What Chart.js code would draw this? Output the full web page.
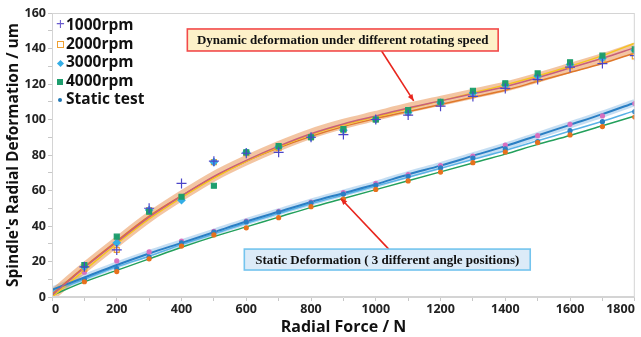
<!DOCTYPE html>
<html>
<head>
<meta charset="utf-8">
<script src="https://cdn.jsdelivr.net/npm/chart.js@4/dist/chart.umd.min.js"></script>
<style>
  html, body { margin: 0; padding: 0; background: #fff; }
  #wrap { position: relative; width: 641px; height: 337px; }
  #legend { position: absolute; left: 56px; top: 15px; font: bold 15.5px "Open Sans", sans-serif; color: #111; line-height: 18.5px; }
  #legend div { white-space: nowrap; }
  #legend span.m { display: inline-block; width: 8px; text-align: center; margin-right: 2px; }
</style>
</head>
<body>
<div id="wrap">
  <canvas id="defChart" width="641" height="337"></canvas>
  <div id="legend">
    <div><span class="m" style="color:#6a5ccf;font-weight:normal">+</span>1000rpm</div>
    <div><span class="m"><i style="display:inline-block;width:5px;height:5px;border:1px solid #f0a030;vertical-align:1px"></i></span>2000rpm</div>
    <div><span class="m"><i style="display:inline-block;width:5px;height:5px;background:#33aee6;transform:rotate(45deg);vertical-align:1px"></i></span>3000rpm</div>
    <div><span class="m"><i style="display:inline-block;width:6px;height:6px;background:#1e9e6e;vertical-align:1px"></i></span>4000rpm</div>
    <div><span class="m"><i style="display:inline-block;width:4px;height:4px;border-radius:50%;background:#1f77b4;vertical-align:2px"></i></span>Static test</div>
  </div>
</div>
<script>
// Radial force (N)
const forceFit = [0, 100, 200, 300, 400, 500, 600, 700, 800, 900, 1000, 1100, 1200, 1300, 1400, 1500, 1600, 1700, 1800];
const forcePts = [100, 200, 300, 400, 500, 600, 700, 800, 900, 1000, 1100, 1200, 1300, 1400, 1500, 1600, 1700, 1800];

// measured dynamic deformation (um)
const rpm1000 = [17, 26.5, 50, 64, 76.5, 81, 81.5, 90, 91.5, 100, 102.5, 107.5, 113, 117.5, 122.5, 129.5, 131.5, 136];
const rpm2000 = [16, 26.5, 49, 56, 76, 81, 84, 90, 94, 100, 104, 109, 114, 119, 123, 130, 133, 135.5];
const rpm3000 = [17, 30.5, 49, 54.5, 76, 81.5, 84.5, 90, 94, 100, 104, 109.5, 115, 119.5, 124.5, 131, 134.5, 139];
const rpm4000 = [18, 34, 48, 56.5, 62.7, 81.5, 85, 90, 94.6, 100, 105.3, 110, 116.2, 120.4, 126, 132.2, 136, 139.5];

// measured static deformation, 3 angle positions (um)
const staticA = [14, 20.3, 25.4, 31.5, 37, 42.8, 48.3, 53.5, 58.8, 64, 69, 74, 79.4, 85.6, 90.9, 97.3, 102, 109];
const staticB = [10, 16, 22.5, 30.5, 36.5, 42.3, 47.9, 53, 58, 63, 68, 72.7, 78.3, 83.4, 87.5, 93.7, 98.8, 104.4];
const staticC = [8.6, 14.3, 21.5, 28.7, 35, 39, 44.7, 50.9, 55.2, 60.6, 65.4, 70.4, 75.7, 81.7, 87, 91.3, 96, 101.4];

// fitted curves
const dynFitMid = [1, 16.5, 31, 45, 57, 68, 77, 85, 92, 97.5, 102, 106.5, 110.5, 114.5, 118.5, 123.5, 129, 134.5, 140.5];
const dynFitHigh = [0, 15, 30, 44, 56, 67, 76.5, 84.5, 91.5, 97, 101.5, 106, 110.5, 115, 119.5, 124.5, 130, 136, 143];
const dynFitLow = [1.5, 17, 31.5, 45.5, 57, 67.5, 76.5, 84, 90.5, 96, 100.5, 104.5, 108.5, 112.5, 116.5, 121.5, 126.5, 131.5, 137.5];
const staFitA = [4, 11, 18, 24.5, 30.5, 36.5, 42.5, 48, 53.5, 58.5, 63.5, 69, 74, 79.5, 85, 91, 97, 103, 109.5];
const staFitB = [3, 10, 17, 23, 29.5, 35.5, 41.5, 47, 52.5, 57.5, 62.5, 67.5, 72.5, 77.5, 82.5, 88, 93.5, 99, 105];
const staFitC = [1, 8.5, 15, 21.5, 28, 34, 39.5, 45, 50.5, 55.5, 60.5, 65.5, 70.5, 75.5, 80.5, 86, 91, 96.5, 102];

const xy = (xs, ys) => xs.map((x, i) => ({ x: x, y: ys[i] }));

function fitLine(ys, color, width, order) {
  return {
    type: "line", data: xy(forceFit, ys), borderColor: color, borderWidth: width,
    pointRadius: 0, cubicInterpolationMode: "monotone", fill: false, order: order
  };
}
function pts(ys, style, color, fillColor, r, order) {
  return {
    type: "scatter", data: xy(forcePts, ys), pointStyle: style, pointRadius: r,
    borderColor: color, backgroundColor: fillColor, pointBorderWidth: 1.2, showLine: false, order: order
  };
}

// annotation boxes and arrows, placed in data units
const notes = {
  id: "notes",
  afterDatasetsDraw(chart) {
    const c = chart.ctx, xs = chart.scales.x, ys = chart.scales.y;
    const X = v => xs.getPixelForValue(v), Y = v => ys.getPixelForValue(v);
    c.save();
    // chart frame
    c.strokeStyle = "#d4d4d4"; c.lineWidth = 1;
    const a = chart.chartArea;
    c.strokeRect(a.left + 0.5, a.top + 0.5, a.right - a.left - 1, a.bottom - a.top - 1);

    function arrow(x1, y1, x2, y2) {
      const px1 = X(x1), py1 = Y(y1), px2 = X(x2), py2 = Y(y2);
      const ang = Math.atan2(py2 - py1, px2 - px1);
      c.strokeStyle = "#e8261e"; c.fillStyle = "#e8261e"; c.lineWidth = 1.6;
      c.beginPath(); c.moveTo(px1, py1); c.lineTo(px2, py2); c.stroke();
      c.beginPath();
      c.moveTo(px2, py2);
      c.lineTo(px2 - 7 * Math.cos(ang - 0.4), py2 - 7 * Math.sin(ang - 0.4));
      c.lineTo(px2 - 7 * Math.cos(ang + 0.4), py2 - 7 * Math.sin(ang + 0.4));
      c.closePath(); c.fill();
    }
    function box(x1, y1, x2, y2, fill, stroke, text) {
      const l = X(x1), t = Y(y1), r = X(x2), b = Y(y2);
      c.fillStyle = fill; c.fillRect(l, t, r - l, b - t);
      c.strokeStyle = stroke; c.lineWidth = 1.6; c.strokeRect(l, t, r - l, b - t);
      c.fillStyle = "#111"; c.font = "bold 13px 'Liberation Serif', serif";
      c.textAlign = "center"; c.textBaseline = "middle";
      c.fillText(text, (l + r) / 2, (t + b) / 2 + 1);
    }
    arrow(1018, 138.6, 1117, 110.5);
    arrow(1040, 27, 892, 55.5);
    box(418, 151, 1378, 138.6, "#fdf1c9", "#f24a4a", "Dynamic deformation under different rotating speed");
    box(594, 27, 1477, 15.2, "#dcebf8", "#74c4ee", "Static Deformation ( 3 different angle positions)");
    c.restore();
  }
};

const ctx = document.getElementById("defChart").getContext("2d");
new Chart(ctx, {
  data: {
    datasets: [
      // bands
      fitLine(dynFitMid, "rgba(232,140,70,0.5)", 10, 20),
      fitLine(staFitA, "rgba(90,160,220,0.35)", 7, 20),
      // fit lines
      fitLine(dynFitHigh, "#f5c520", 1.5, 10),
      fitLine(dynFitLow, "#e0782a", 1.5, 10),
      fitLine(dynFitMid, "#c8607a", 1.5, 9),
      fitLine(staFitC, "#23a05c", 1.5, 10),
      fitLine(staFitB, "#59b2e6", 1.5, 10),
      fitLine(staFitA, "#2a7fc4", 2, 9),
      // measured points
      pts(staticC, "circle", "#e8711c", "#e8711c", 2, 3),
      pts(staticB, "circle", "#2a7fc4", "#2a7fc4", 2, 3),
      pts(staticA, "circle", "#d870c0", "#d870c0", 2, 3),
      pts(rpm4000, "rect", "#1e9e6e", "#1e9e6e", 3.5, 2),
      pts(rpm3000, "rectRot", "#33aee6", "#33aee6", 3.5, 2),
      pts(rpm2000, "rect", "#f0a030", "rgba(0,0,0,0)", 3.5, 2),
      pts(rpm1000, "cross", "#4b45c8", "#4b45c8", 5, 1)
    ]
  },
  options: {
    responsive: false,
    animation: false,
    layout: { padding: { top: 13, right: 4, left: 0, bottom: 0 } },
    plugins: { legend: { display: false }, tooltip: { enabled: false } },
    scales: {
      x: {
        type: "linear", min: 0, max: 1800,
        afterFit: s => { s.height = 40; s.paddingRight = 0; },
        grid: { drawOnChartArea: false, color: "#c8c8c8", tickLength: 4 },
        border: { color: "#d4d4d4" },
        ticks: {
          stepSize: 100, autoSkip: false, maxRotation: 0, padding: 1, align: "inner",
          color: "#222", font: { family: "Open Sans", weight: "bold", size: 12.5 },
          callback: v => (v % 200 === 0 ? v : "")
        },
        title: { display: true, text: "Radial Force / N", color: "#111", padding: { top: 3, bottom: 0 },
          font: { family: "Open Sans", weight: "bold", size: 16 } }
      },
      y: {
        min: 0, max: 160,
        afterFit: s => { s.width = 52; },
        grid: { drawOnChartArea: false, color: "#c8c8c8", tickLength: 4 },
        border: { color: "#d4d4d4" },
        ticks: {
          stepSize: 10, autoSkip: false, padding: 2,
          color: "#222", font: { family: "Open Sans", weight: "bold", size: 12.5 },
          callback: v => (v % 20 === 0 ? v : "")
        },
        title: { display: true, text: "Spindle's Radial Deformation / um", color: "#111", padding: { top: 4, bottom: 0 },
          font: { family: "Open Sans", weight: "bold", size: 15.5 } }
      }
    }
  },
  plugins: [notes]
});
</script>
</body>
</html>
